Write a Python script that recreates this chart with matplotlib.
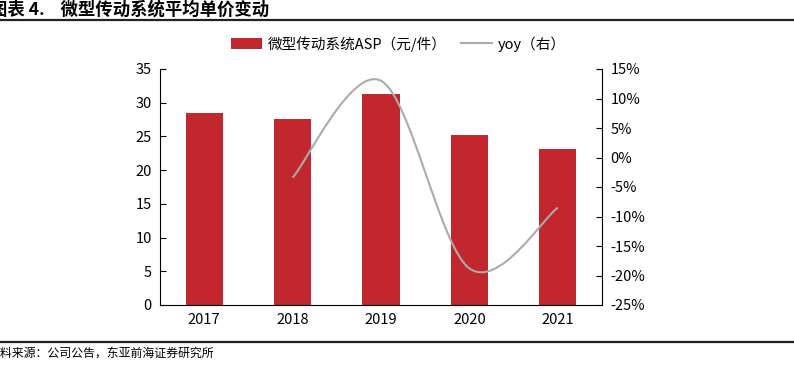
import matplotlib
matplotlib.use("Agg")
import matplotlib.pyplot as plt
import numpy as np
from matplotlib.path import Path
from matplotlib.patches import PathPatch, Patch
from matplotlib.lines import Line2D

plt.rcParams['font.family'] = ['Noto Sans CJK SC', 'DejaVu Sans']

years = ['2017', '2018', '2019', '2020', '2021']
asp = [28.5, 27.6, 31.3, 25.2, 23.1]
yoy_years = ['2018', '2019', '2020', '2021']
yoy = [-3.4, 13.0, -18.8, -8.5]

bar_color = '#C1272D'
line_color = '#ABABAB'

fig = plt.figure(figsize=(7.94, 3.73), dpi=100)
ax = fig.add_axes([160/794, 1-305/373, 442/794, 236/373])
x = np.arange(len(years))
ax.bar(x, asp, width=0.42, color=bar_color, zorder=2)
ax.set_xlim(-0.5, len(years)-0.5)
ax.set_ylim(0, 35)
ax.set_yticks(range(0, 36, 5))
ax.set_xticks(x)
ax.set_xticklabels(years)
ax.spines['top'].set_visible(False)
ax.spines['right'].set_visible(False)
ax.tick_params(axis='y', direction='in', length=4, width=0.8, labelsize=10.5, pad=6)
ax.tick_params(axis='x', length=0, labelsize=10.5, pad=6)

ax2 = ax.twinx()
ax2.set_ylim(-25, 15)
ax2.set_yticks(range(-25, 16, 5))
ax2.set_yticklabels([f'{v}%' for v in range(-25, 16, 5)])
ax2.spines['top'].set_visible(False)
ax2.spines['left'].set_visible(False)
ax2.spines['bottom'].set_visible(False)
ax2.tick_params(axis='y', direction='in', length=4, width=0.8, labelsize=10.5, pad=6)

# smoothed line (Excel-like Bezier smoothing)
px = np.array([years.index(y) for y in yoy_years], dtype=float)
py = np.array(yoy, dtype=float)
pts = np.column_stack([px, py])
verts = [pts[0]]
codes = [Path.MOVETO]
n = len(pts)
for i in range(n-1):
    p0 = pts[i-1] if i > 0 else pts[i]
    p1 = pts[i]
    p2 = pts[i+1]
    p3 = pts[i+2] if i+2 < n else pts[i+1]
    c1 = p1 + (p2 - p0) / 6.0
    c2 = p2 - (p3 - p1) / 6.0
    verts += [c1, c2, p2]
    codes += [Path.CURVE4]*3
path = Path(verts, codes)
ax2.add_patch(PathPatch(path, facecolor='none', edgecolor=line_color, lw=1.5, zorder=3))

handles = [Patch(facecolor=bar_color, edgecolor='none'),
           Line2D([0], [0], color=line_color, lw=1.5)]
labels = ['微型传动系统ASP（元/件）', 'yoy（右）']
fig.legend(handles, labels, loc='center', bbox_to_anchor=(0.502, 1-44/373), ncol=2,
           frameon=False, fontsize=10.5, handlelength=2.1, handleheight=0.8,
           columnspacing=1.0, handletextpad=0.4)

fig.text(-10/794, 1-10/373, '图表 4.    微型传动系统平均单价变动', fontsize=12.5, fontweight='bold',
         va='center', ha='left')
fig.add_artist(Line2D([0, 1], [1-20/373, 1-20/373], color='#222222', lw=1.6))
fig.add_artist(Line2D([0, 1], [1-342/373, 1-342/373], color='#222222', lw=1.6))
fig.text(-12/794, 1-353/373, '资料来源：公司公告，东亚前海证券研究所', fontsize=8.6,
         va='center', ha='left')

fig.savefig('out.png', dpi=100)
